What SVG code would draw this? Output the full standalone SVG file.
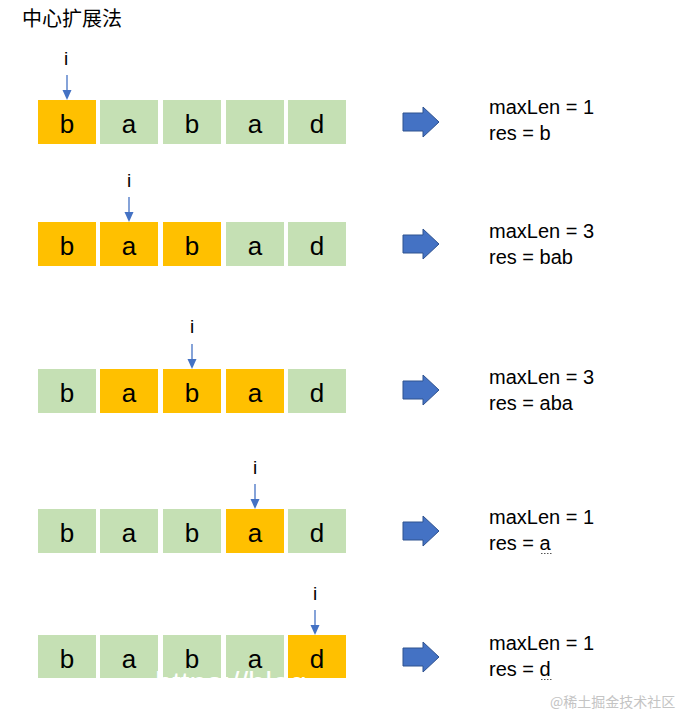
<svg xmlns="http://www.w3.org/2000/svg" width="684" height="714" viewBox="0 0 684 714">
<defs>
<style>
.g{fill:#C5E0B4}
.o{fill:#FFC000}
.ch{font-family:"Liberation Sans",Arial,sans-serif;font-size:26px;fill:#000;text-anchor:middle}
.lbl{font-family:"Liberation Sans",Arial,sans-serif;font-size:20px;fill:#000}
.i{font-family:"Liberation Sans",Arial,sans-serif;font-size:19px;fill:#000;text-anchor:middle}
.pl{stroke:#4472C4;stroke-width:1.3;fill:none}
.ph{fill:#4472C4}
.big{fill:#4472C4;stroke:#2F528F;stroke-width:1}
.dot{stroke:#555;stroke-width:1;stroke-dasharray:1.5 1.5}
</style>
<g id="blockArrow"><path class="big" d="M0,-9 H20 V-15 L36,0 L20,15 V9 H0 Z"/></g>
</defs>
<rect width="684" height="714" fill="#fff"/>
<text id="title" x="22" y="26" style="font-family:'Noto Sans CJK SC',sans-serif;font-size:20px;fill:#000">中心扩展法</text>

<g id="row1">
<rect class="o" x="38" y="100" width="58" height="44"/><text class="ch" x="67" y="133">b</text>
<rect class="g" x="100" y="100" width="58" height="44"/><text class="ch" x="129" y="133">a</text>
<rect class="g" x="163" y="100" width="58" height="44"/><text class="ch" x="192" y="133">b</text>
<rect class="g" x="226" y="100" width="58" height="44"/><text class="ch" x="255" y="133">a</text>
<rect class="g" x="288" y="100" width="58" height="44"/><text class="ch" x="317" y="133">d</text>
<text class="i" x="66" y="65">i</text>
<text class="lbl" x="489" y="114">maxLen = 1</text>
<text class="lbl" x="489" y="140">res = b</text>
</g>

<g id="row2">
<rect class="o" x="38" y="222" width="58" height="44"/><text class="ch" x="67" y="255">b</text>
<rect class="o" x="100" y="222" width="58" height="44"/><text class="ch" x="129" y="255">a</text>
<rect class="o" x="163" y="222" width="58" height="44"/><text class="ch" x="192" y="255">b</text>
<rect class="g" x="226" y="222" width="58" height="44"/><text class="ch" x="255" y="255">a</text>
<rect class="g" x="288" y="222" width="58" height="44"/><text class="ch" x="317" y="255">d</text>
<text class="i" x="129" y="187">i</text>
<text class="lbl" x="489" y="238">maxLen = 3</text>
<text class="lbl" x="489" y="264">res = bab</text>
</g>

<g id="row3">
<rect class="g" x="38" y="369" width="58" height="44"/><text class="ch" x="67" y="402">b</text>
<rect class="o" x="100" y="369" width="58" height="44"/><text class="ch" x="129" y="402">a</text>
<rect class="o" x="163" y="369" width="58" height="44"/><text class="ch" x="192" y="402">b</text>
<rect class="o" x="226" y="369" width="58" height="44"/><text class="ch" x="255" y="402">a</text>
<rect class="g" x="288" y="369" width="58" height="44"/><text class="ch" x="317" y="402">d</text>
<text class="i" x="192" y="333">i</text>
<text class="lbl" x="489" y="384">maxLen = 3</text>
<text class="lbl" x="489" y="410">res = aba</text>
</g>

<g id="row4">
<rect class="g" x="38" y="509" width="58" height="44"/><text class="ch" x="67" y="542">b</text>
<rect class="g" x="100" y="509" width="58" height="44"/><text class="ch" x="129" y="542">a</text>
<rect class="g" x="163" y="509" width="58" height="44"/><text class="ch" x="192" y="542">b</text>
<rect class="o" x="226" y="509" width="58" height="44"/><text class="ch" x="255" y="542">a</text>
<rect class="g" x="288" y="509" width="58" height="44"/><text class="ch" x="317" y="542">d</text>
<text class="i" x="255" y="474">i</text>
<text class="lbl" x="489" y="524">maxLen = 1</text>
<text class="lbl" x="489" y="550">res = a</text>
<line class="dot" x1="541" y1="553.5" x2="553" y2="553.5"/>
</g>

<g id="row5">
<rect class="g" x="38" y="635" width="58" height="43"/><text class="ch" x="67" y="668">b</text>
<rect class="g" x="100" y="635" width="58" height="43"/><text class="ch" x="129" y="668">a</text>
<rect class="g" x="163" y="635" width="58" height="43"/><text class="ch" x="192" y="668">b</text>
<rect class="g" x="226" y="635" width="58" height="43"/><text class="ch" x="255" y="668">a</text>
<rect class="o" x="288" y="635" width="58" height="43"/><text class="ch" x="317" y="668">d</text>
<text class="i" x="315" y="600">i</text>
<text class="lbl" x="489" y="650">maxLen = 1</text>
<text class="lbl" x="489" y="676">res = d</text>
<line class="dot" x1="541" y1="679.5" x2="553" y2="679.5"/>
</g>

<g id="connectors">
<line class="pl" x1="67" y1="75" x2="67" y2="92"/><path class="ph" d="M62.5,90 H71.5 L67,100 Z"/>
<line class="pl" x1="129" y1="197" x2="129" y2="214"/><path class="ph" d="M124.5,212 H133.5 L129,222 Z"/>
<line class="pl" x1="192" y1="344" x2="192" y2="361"/><path class="ph" d="M187.5,359 H196.5 L192,369 Z"/>
<line class="pl" x1="255" y1="484" x2="255" y2="501"/><path class="ph" d="M250.5,499 H259.5 L255,509 Z"/>
<line class="pl" x1="315" y1="610" x2="315" y2="627"/><path class="ph" d="M310.5,625 H319.5 L315,635 Z"/>
<use href="#blockArrow" x="403" y="122"/>
<use href="#blockArrow" x="403" y="244"/>
<use href="#blockArrow" x="403" y="390"/>
<use href="#blockArrow" x="403" y="531"/>
<use href="#blockArrow" x="403" y="657"/>
</g>

<text id="wm1" x="155" y="694" style="font-family:'Liberation Sans',Arial,sans-serif;font-size:31px;fill:#fff">https://blog</text>
<text id="wm2" x="550" y="707" style="font-family:'Noto Sans CJK SC',sans-serif;font-size:14px;fill:#c4c4c4">@稀土掘金技术社区</text>
</svg>
